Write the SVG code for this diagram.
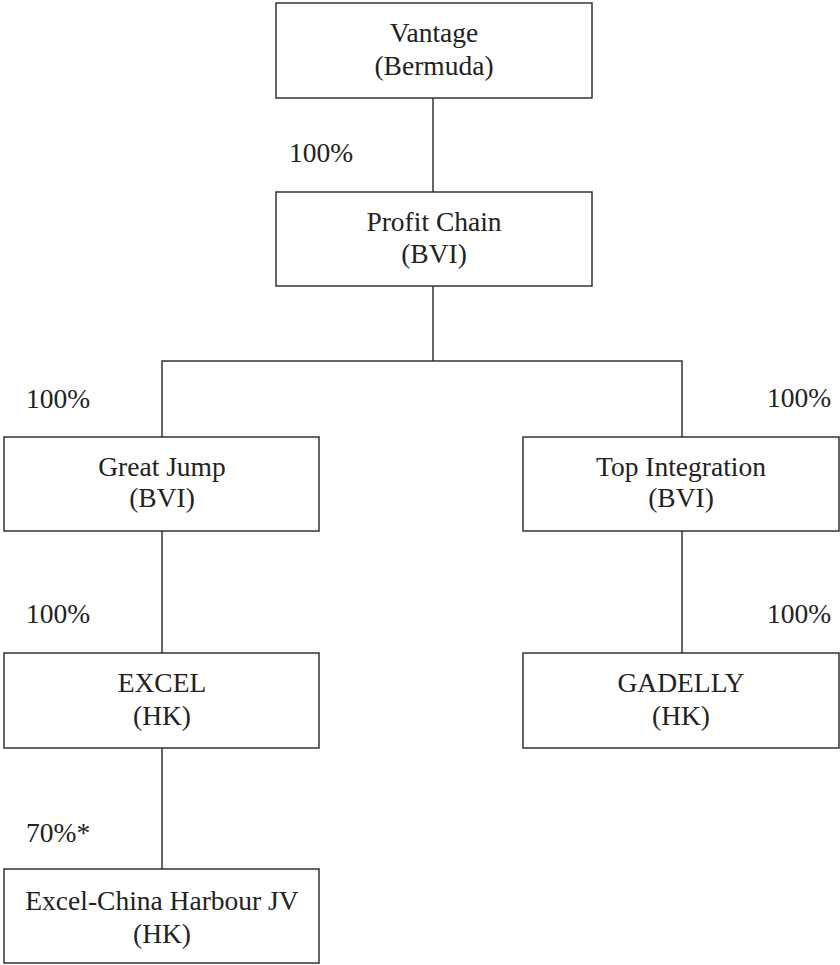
<svg xmlns="http://www.w3.org/2000/svg" width="840" height="965" viewBox="0 0 840 965" font-family="'Liberation Serif', 'Times New Roman', Times, serif">
<style>
.box{fill:#fff;stroke:#333;stroke-width:1.5}
.ln{stroke:#333;stroke-width:1.5;fill:none}
text{font-family:'Liberation Serif','Times New Roman',Times,serif;font-size:27.5px;fill:#222}
.c{text-anchor:middle}
</style>
<rect width="840" height="965" fill="#fff"/>
<g id="connectors">
<line class="ln" x1="433" y1="98" x2="433" y2="192"/>
<line class="ln" x1="433" y1="286" x2="433" y2="361"/>
<polyline class="ln" points="162,437 162,361 682,361 682,437"/>
<line class="ln" x1="162" y1="531" x2="162" y2="653"/>
<line class="ln" x1="682" y1="531" x2="682" y2="653"/>
<line class="ln" x1="162" y1="748" x2="162" y2="869"/>
</g>
<g id="labels">
<text x="289" y="162">100%</text>
<text x="26" y="408">100%</text>
<text x="767" y="407">100%</text>
<text x="26" y="623">100%</text>
<text x="767" y="623">100%</text>
<text x="26" y="842">70%*</text>
</g>
<g id="vantage">
<rect class="box" x="276" y="3" width="316" height="95"/>
<text class="c" x="434" y="42">Vantage</text>
<text class="c" x="434" y="75">(Bermuda)</text>
</g>
<g id="profit-chain">
<rect class="box" x="276" y="192" width="316" height="94"/>
<text class="c" x="434" y="231">Profit Chain</text>
<text class="c" x="434" y="263">(BVI)</text>
</g>
<g id="great-jump">
<rect class="box" x="4" y="437" width="315" height="94"/>
<text class="c" x="162" y="476">Great Jump</text>
<text class="c" x="162" y="507">(BVI)</text>
</g>
<g id="top-integration">
<rect class="box" x="523" y="437" width="316" height="94"/>
<text class="c" x="681" y="476">Top Integration</text>
<text class="c" x="681" y="507">(BVI)</text>
</g>
<g id="excel">
<rect class="box" x="4" y="653" width="315" height="95"/>
<text class="c" x="162" y="692">EXCEL</text>
<text class="c" x="162" y="725">(HK)</text>
</g>
<g id="gadelly">
<rect class="box" x="523" y="653" width="316" height="95"/>
<text class="c" x="681" y="692">GADELLY</text>
<text class="c" x="681" y="725">(HK)</text>
</g>
<g id="excel-china-harbour-jv">
<rect class="box" x="4" y="869" width="315" height="94"/>
<text class="c" x="162" y="910">Excel-China Harbour JV</text>
<text class="c" x="162" y="943">(HK)</text>
</g>
</svg>
